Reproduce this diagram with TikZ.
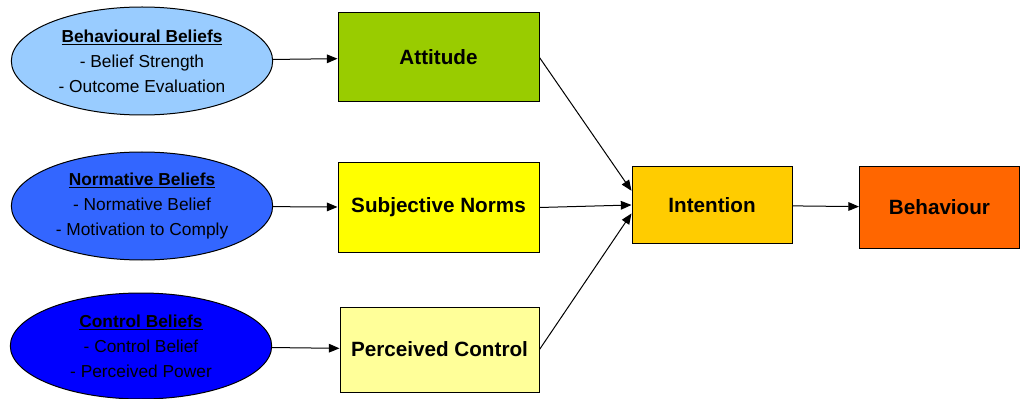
\documentclass[tikz,border=0pt]{standalone}
\usepackage{fontspec}
\setmainfont{Liberation Sans}
\usetikzlibrary{shapes.geometric,arrows.meta}
\definecolor{bbblue}{HTML}{99CCFF}
\definecolor{nbblue}{HTML}{3366FF}
\definecolor{cbblue}{HTML}{0000FF}
\definecolor{attgreen}{HTML}{99CC00}
\definecolor{subyellow}{HTML}{FFFF00}
\definecolor{pcyellow}{HTML}{FFFF99}
\definecolor{intorange}{HTML}{FFCC00}
\definecolor{behorange}{HTML}{FF6600}
\begin{document}
\begin{tikzpicture}[x=0.75pt,y=-0.75pt,
  belief/.style={ellipse,draw,line width=0.75pt,minimum width=196pt,minimum height=81pt,
    inner sep=0pt,align=center,font=\fontsize{13}{18.75}\selectfont},
  factor/.style={rectangle,draw,line width=0.75pt,minimum width=150.75pt,minimum height=66.75pt,
    font=\fontsize{15.5}{18}\selectfont\bfseries},
  link/.style={-{Triangle[length=8pt,width=6.5pt]},line width=0.75pt}]
  \useasboundingbox (0,0) rectangle (1021,399);
  \node[belief,fill=bbblue] (bb) at (142,61)
    {\underline{\textbf{Behavioural Beliefs}}\\- Belief Strength\\- Outcome Evaluation};
  \node[belief,fill=nbblue] (nb) at (142,206)
    {\underline{\textbf{Normative Beliefs}}\\- Normative Belief\\- Motivation to Comply};
  \node[belief,fill=cbblue,minimum height=79.5pt] (cb) at (141,346)
    {\underline{\textbf{Control Beliefs}}\\- Control Belief\\- Perceived Power};
  \node[factor,fill=attgreen] (att) at (438.5,57.5) {Attitude};
  \node[factor,fill=subyellow] (sub) at (438.5,207.5) {Subjective Norms};
  \node[factor,fill=pcyellow,minimum width=149.25pt,minimum height=63.75pt] (pc) at (439.5,349.5) {Perceived Control};
  \node[factor,fill=intorange,minimum width=120pt,minimum height=57pt] (int) at (712,205) {Intention};
  \node[factor,fill=behorange,minimum width=120pt,minimum height=60.75pt] (beh) at (939.5,207.5) {Behaviour};
  \draw[link] (bb) -- (att);
  \draw[link] (nb) -- (sub);
  \draw[link] (cb) -- (pc);
  \draw[link] (att.east) -- (int.170);
  \draw[link] (sub.east) -- (int.west);
  \draw[link] (pc.east) -- (int.186);
  \draw[link] (int) -- (beh);
\end{tikzpicture}
\end{document}
